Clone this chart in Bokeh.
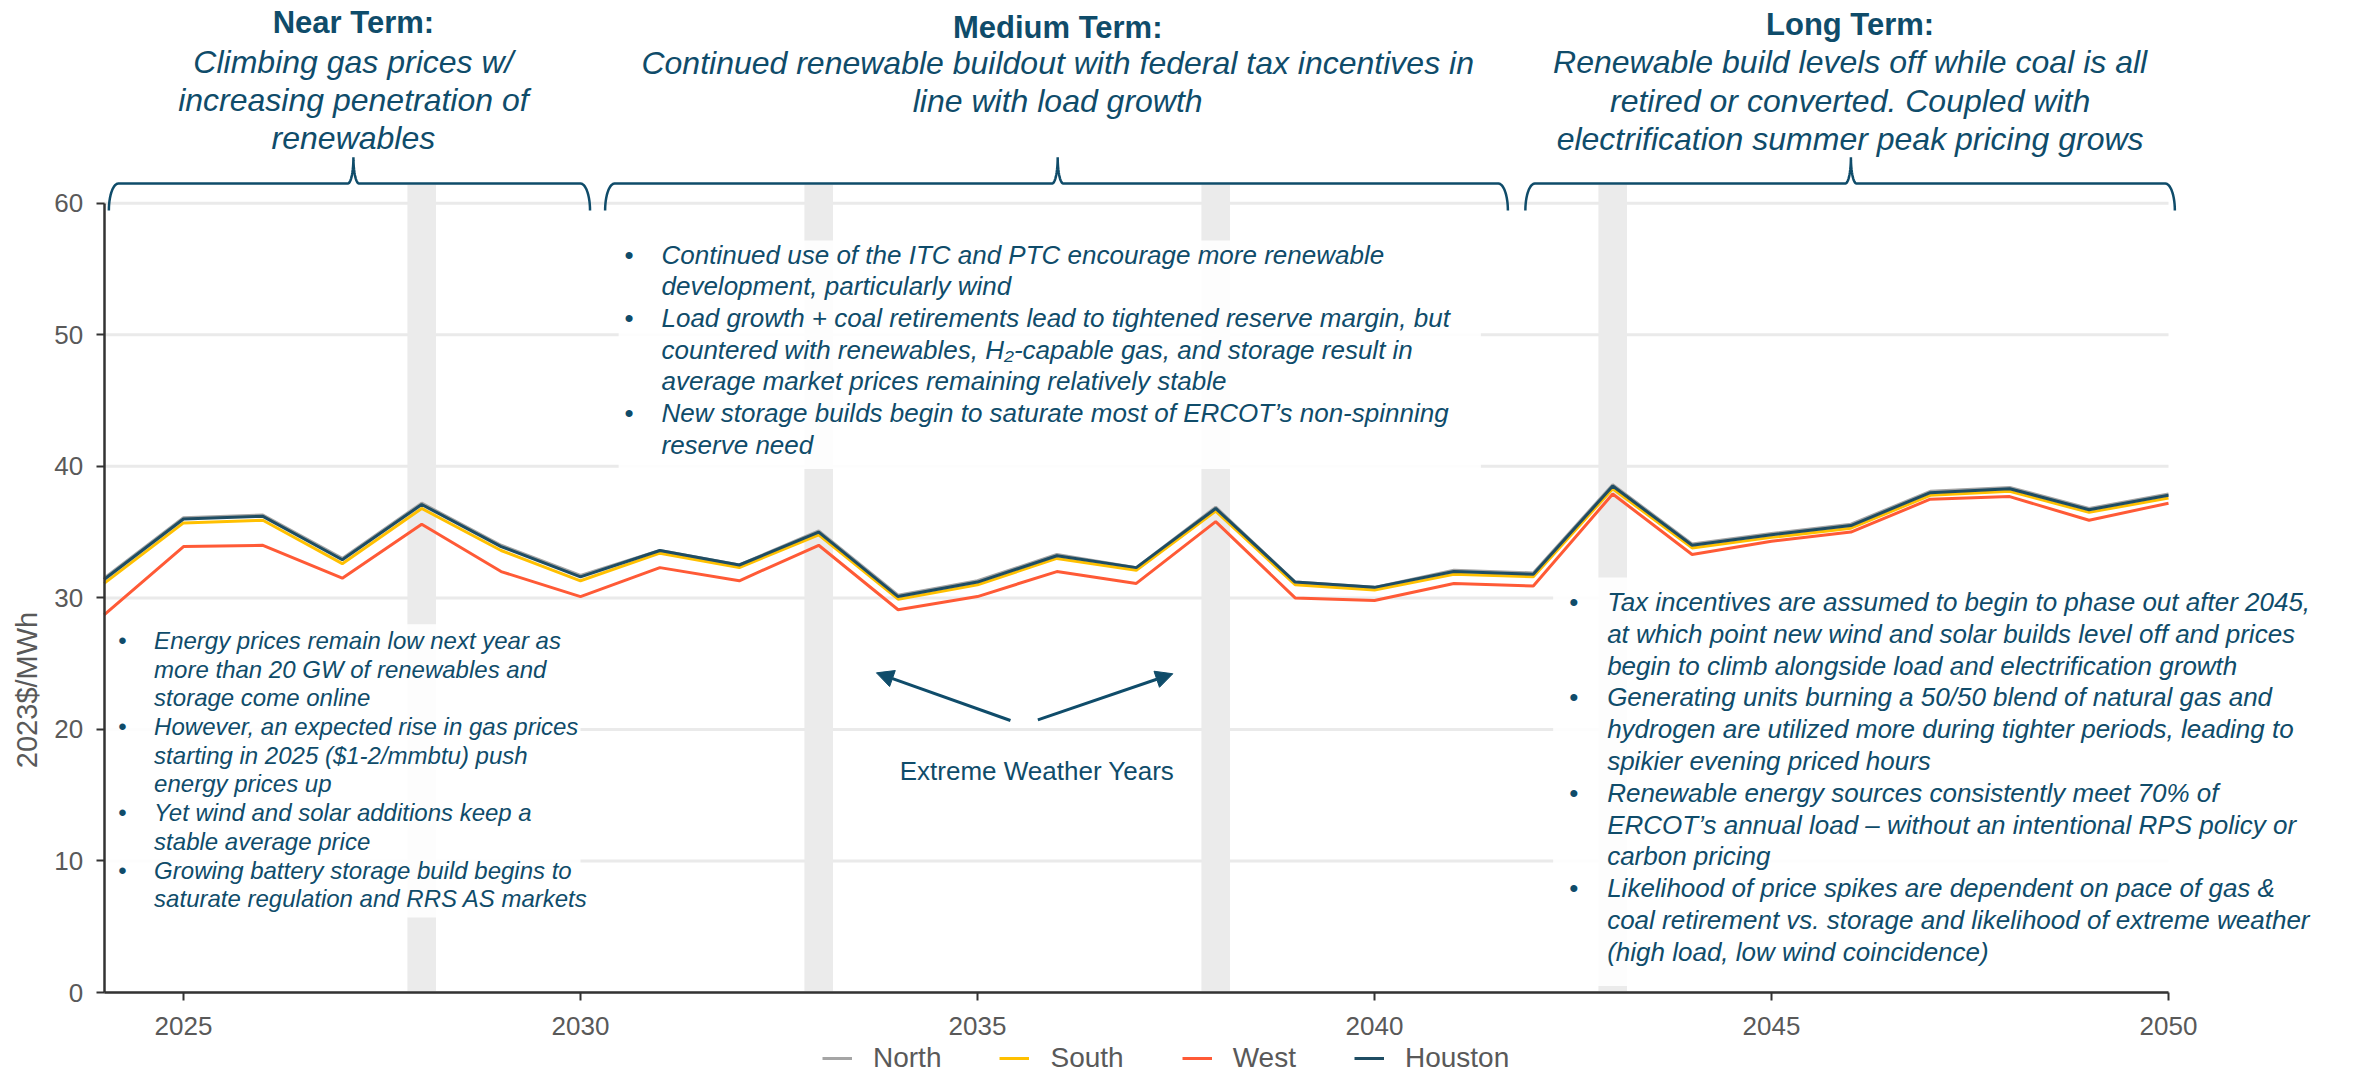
import numpy as np
from bokeh.plotting import figure
from bokeh.models import (Range1d, FixedTicker, Label, Arrow, NormalHead,
                          Legend, LegendItem, LinearAxis)
from bokeh.embed import file_html
from bokeh.resources import INLINE

# ---------------- data ----------------
years = list(range(2024, 2051))
north = [31.5, 36.1, 36.3, 33.0, 37.2, 34.0, 31.7, 33.6, 32.5, 35.1, 30.2, 31.3, 33.3, 32.3,
         36.9, 31.2, 30.8, 32.1, 31.9, 38.6, 34.1, 34.9, 35.6, 38.1, 38.4, 36.8, 37.9]
south = [31.1, 35.7, 35.9, 32.6, 36.8, 33.6, 31.3, 33.4, 32.3, 34.8, 29.9, 31.0, 33.0, 32.1,
         36.6, 31.0, 30.6, 31.8, 31.6, 38.3, 33.8, 34.6, 35.3, 37.8, 38.1, 36.5, 37.6]
west = [28.7, 33.9, 34.0, 31.5, 35.6, 32.0, 30.1, 32.3, 31.3, 34.0, 29.1, 30.1, 32.0, 31.1,
        35.8, 30.0, 29.8, 31.1, 30.9, 37.9, 33.3, 34.3, 35.0, 37.5, 37.7, 35.9, 37.2]
houston = [31.4, 36.0, 36.2, 32.9, 37.1, 33.9, 31.6, 33.6, 32.5, 35.0, 30.1, 31.2, 33.2, 32.3,
           36.8, 31.2, 30.8, 32.0, 31.8, 38.5, 34.0, 34.8, 35.5, 38.0, 38.3, 36.7, 37.8]
series_names = ["North", "South", "West", "Houston"]
extreme_years = [2028, 2033, 2038, 2043]
y_ticks = [0, 10, 20, 30, 40, 50, 60]
x_ticks = [2025, 2030, 2035, 2040, 2045, 2050]
y_label = "2023$/MWh"

period_titles = ["Near Term:", "Medium Term:", "Long Term:"]
period_subtitles = [
    ["Climbing gas prices w/", "increasing penetration of", "renewables"],
    ["Continued renewable buildout with federal tax incentives in", "line with load growth"],
    ["Renewable build levels off while coal is all", "retired or converted. Coupled with",
     "electrification summer peak pricing grows"],
]
near_bullets = [
    ["Energy prices remain low next year as", "more than 20 GW of renewables and",
     "storage come online"],
    ["However, an expected rise in gas prices", "starting in 2025 ($1-2/mmbtu) push",
     "energy prices up"],
    ["Yet wind and solar additions keep a", "stable average price"],
    ["Growing battery storage build begins to", "saturate regulation and RRS AS markets"],
]
medium_bullets = [
    ["Continued use of the ITC and PTC encourage more renewable",
     "development, particularly wind"],
    ["Load growth + coal retirements lead to tightened reserve margin, but",
     "countered with renewables, H\u2082-capable gas, and storage result in",
     "average market prices remaining relatively stable"],
    ["New storage builds begin to saturate most of ERCOT\u2019s non-spinning",
     "reserve need"],
]
long_bullets = [
    ["Tax incentives are assumed to begin to phase out after 2045,",
     "at which point new wind and solar builds level off and prices",
     "begin to climb alongside load and electrification growth"],
    ["Generating units burning a 50/50 blend of natural gas and",
     "hydrogen are utilized more during tighter periods, leading to",
     "spikier evening priced hours"],
    ["Renewable energy sources consistently meet 70% of",
     "ERCOT\u2019s annual load \u2013 without an intentional RPS policy or",
     "carbon pricing"],
    ["Likelihood of price spikes are dependent on pace of gas &",
     "coal retirement vs. storage and likelihood of extreme weather",
     "(high load, low wind coincidence)"],
]
extreme_label = "Extreme Weather Years"

# ---------------- style / layout ----------------
TEAL = "#0F4C6A"
GREY_TXT = "#595959"
FONT = "Liberation Sans"
series_colors = ["#A5A5A5", "#FFC000", "#FF5A36", "#1F4D63"]
W, H = 2354, 1074
PX_X = 79.4      # px per year
PX_Y = 13.154    # px per $/MWh
X0_PX = 103.6    # canvas x of year 2024
Y0_PX = 992.0    # canvas y (from top) of value 0
TEXT_DY = 10.0 / PX_Y  # baseline correction for labels

p = figure(width=W, height=H,
           x_range=Range1d(2024 - X0_PX / PX_X, 2024 + (W - X0_PX) / PX_X),
           y_range=Range1d(-(H - Y0_PX) / PX_Y, Y0_PX / PX_Y),
           x_axis_location=None, y_axis_location=None,
           output_backend="svg", toolbar_location=None,
           min_border=0)
p.outline_line_color = None
p.background_fill_color = "white"
p.border_fill_color = "white"
for g in p.grid:
    g.visible = False

# horizontal grid lines spanning the axis extent
p.segment(x0=[years[0]] * len(y_ticks), x1=[years[-1]] * len(y_ticks), y0=y_ticks, y1=y_ticks,
          line_color="#EAEAEA", line_width=3)

xaxis = LinearAxis(fixed_location=0, ticker=FixedTicker(ticks=x_ticks), bounds=(2024, 2050))
yaxis = LinearAxis(fixed_location=2024, ticker=FixedTicker(ticks=y_ticks), bounds=(0, 60))
for ax in (xaxis, yaxis):
    ax.axis_line_color = "#333333"
    ax.axis_line_width = 2.5
    ax.major_tick_line_color = "#333333"
    ax.major_tick_line_width = 2
    ax.major_tick_out = 8
    ax.major_tick_in = 0
    ax.minor_tick_out = 0
    ax.minor_tick_in = 0
    ax.major_label_text_font = FONT
    ax.major_label_text_font_size = "26px"
    ax.major_label_text_color = GREY_TXT
xaxis.major_label_standoff = 16
yaxis.major_label_standoff = 13
p.add_layout(xaxis, "below")
p.add_layout(yaxis, "left")

# extreme-weather bands
p.vbar(x=extreme_years, width=0.36, bottom=0, top=61.4, fill_color="#EBEBEB",
       line_color=None)

# white text boxes (semi-opaque)
p.quad(left=[2024.0, 2030.48, 2042.25], right=[2030.0, 2041.34, 2052.1],
       bottom=[5.7, 39.8, 0.5], top=[28.0, 57.17, 31.55],
       fill_color="white", fill_alpha=0.9, line_color=None)

# series lines
renderers = []
for name, vals, col in zip(series_names, [north, south, west, houston], series_colors):
    r = p.line(years, vals, line_color=col, line_width=3)
    renderers.append(r)

legend = Legend(items=[LegendItem(label=n, renderers=[r]) for n, r in zip(series_names, renderers)],
                orientation="horizontal", location=(822, 0),
                glyph_width=30, glyph_height=26, label_standoff=21, spacing=58,
                padding=0, margin=0, label_text_font=FONT, label_text_font_size="28px",
                label_text_color=GREY_TXT, border_line_color=None,
                background_fill_alpha=0)
p.add_layout(legend)

# braces above the periods
brace_spans = [(2024.06, 2030.12, 2027.14), (2030.31, 2041.68, 2036.01), (2041.90, 2050.08, 2046.0)]


def brace(x0, x1, xm, y_end=59.45, y_line=61.5, y_tip=63.5, rx=0.12, rt=0.07, n=14):
    t = np.linspace(0, np.pi / 2, n)
    xs, ys = [], []
    xs += list(x0 + rx - rx * np.cos(t)); ys += list(y_end + (y_line - y_end) * np.sin(t))
    xs += list(xm - rt + rt * np.sin(t)); ys += list(y_line + (y_tip - y_line) * (1 - np.cos(t)))
    xs += list(xm + rt - rt * np.cos(t)); ys += list(y_line + (y_tip - y_line) * (1 - np.sin(t)))
    xs += list(x1 - rx + rx * np.sin(t)); ys += list(y_end + (y_line - y_end) * np.cos(t))
    return xs, ys


bx, by = [], []
for x0, x1, xm in brace_spans:
    xs, ys = brace(x0, x1, xm)
    bx.append(xs); by.append(ys)
p.multi_line(bx, by, line_color=TEAL, line_width=2.5)


def add_text(x, y, text, size, style="normal", align="left", color=TEAL, baseline="alphabetic",
             angle=0, dy=TEXT_DY):
    p.add_layout(Label(x=x, y=y + dy, text=text, text_font=FONT, text_font_size=size,
                       text_font_style=style, text_align=align, text_baseline=baseline,
                       text_color=color, angle=angle))


# period headings
title_x = [2027.14, 2036.01, 2045.99]
title_y = [73.0, 72.6, 72.8]
sub_y0 = [70.0, 69.9, 69.95]
for tx, ty, sy, title, subs in zip(title_x, title_y, sub_y0, period_titles, period_subtitles):
    add_text(tx, ty, title, "31px", "bold", "center")
    for i, line in enumerate(subs):
        add_text(tx, sy - i * 38.2 / PX_Y, line, "32px", "italic", "center")


def add_bullets(groups, x_bullet, x_text, y0, spacing_px, size):
    k = 0
    for g in groups:
        add_text(x_bullet, y0 - k * spacing_px / PX_Y, "\u2022", size, "normal", "center")
        for line in g:
            add_text(x_text, y0 - k * spacing_px / PX_Y, line, size, "italic", "left")
            k += 1


add_bullets(near_bullets, 2024.23, 2024.63, 26.0, 28.7, "24px")
add_bullets(medium_bullets, 2030.61, 2031.02, 55.34, 31.7, "26px")
add_bullets(long_bullets, 2042.51, 2042.93, 28.93, 31.8, "26px")

# extreme weather arrows + label
for xs_, ys_, xe_, ye_ in [(2035.415, 20.68, 2033.727, 24.30), (2035.76, 20.73, 2037.46, 24.23)]:
    p.add_layout(Arrow(end=NormalHead(size=17, fill_color=TEAL, line_color=TEAL),
                       x_start=xs_, y_start=ys_, x_end=xe_, y_end=ye_,
                       line_color=TEAL, line_width=3))
add_text(2035.75, 16.06, extreme_label, "26px", "normal", "center")

# y-axis title
add_text(2023.035, 23.0, y_label, "29px", "normal", "center", GREY_TXT, "middle", np.pi / 2, dy=0)

open("out.html", "w").write(file_html(p, INLINE))
